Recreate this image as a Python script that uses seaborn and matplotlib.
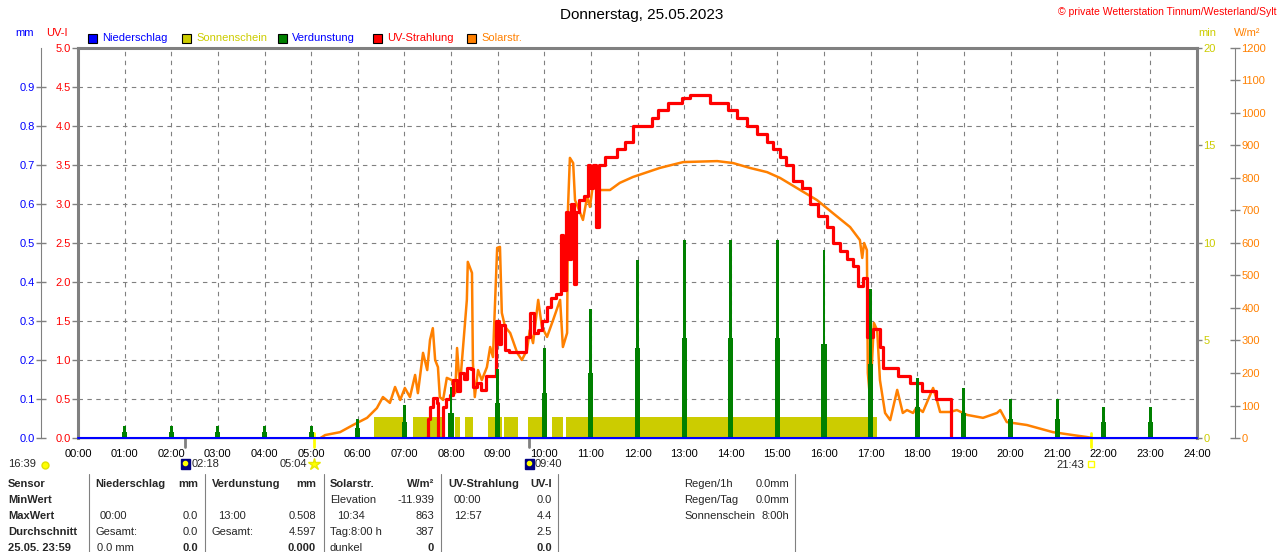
"""
Tagesgrafik Wetterstation Tinnum: UV, Solarstrahlung, Verdunstung, Sonnenschein (25.05.2023).
"""
import numpy as np
import pandas as pd
import matplotlib
matplotlib.use("Agg")
import matplotlib.pyplot as plt
from matplotlib.patches import Rectangle
from matplotlib.lines import Line2D
import matplotlib.transforms as mtransforms
import seaborn as sns

# --- values ---
solar_h = [5.20, 5.30, 5.62, 5.90, 5.98, 6.20, 6.41, 6.54, 6.69, 6.80,
           6.91, 7.01, 7.12, 7.23, 7.29, 7.40, 7.49, 7.55, 7.61, 7.66,
           7.72, 7.76, 7.83, 7.91, 8.02, 8.09, 8.13, 8.19, 8.34, 8.36,
           8.45, 8.47, 8.51, 8.58, 8.66, 8.77, 8.84, 8.90, 8.99, 9.05,
           9.09, 9.16, 9.27, 9.42, 9.52, 9.63, 9.69, 9.76, 9.87, 9.95,
           10.06, 10.19, 10.34, 10.40, 10.49, 10.51, 10.55, 10.62, 10.66, 10.72,
           10.83, 10.92, 10.98, 11.05, 11.20, 11.41, 11.62, 11.90, 12.48, 12.98,
           13.71, 14.05, 14.41, 14.78, 15.06, 15.49, 15.85, 16.19, 16.56, 16.77,
           16.82, 16.86, 16.92, 16.94, 16.99, 17.07, 17.14, 17.20, 17.31, 17.42,
           17.57, 17.69, 17.78, 17.91, 17.99, 18.12, 18.34, 18.42, 18.49, 18.70,
           18.85, 19.07, 19.41, 19.71, 19.78, 19.92, 20.35, 20.91, 21.34, 21.64,
           21.75]
solar_w = [0, 9, 18, 40, 46, 62, 92, 126, 108, 157,
           117, 154, 126, 194, 138, 262, 209, 302, 338, 240,
           218, 126, 117, 185, 178, 138, 277, 157, 425, 542,
           508, 231, 126, 209, 178, 218, 280, 249, 585, 588,
           385, 342, 323, 262, 240, 271, 332, 292, 425, 342,
           311, 363, 425, 280, 323, 711, 862, 846, 732, 711,
           671, 742, 711, 785, 763, 763, 785, 803, 831, 849,
           852, 846, 831, 818, 800, 763, 732, 692, 649, 609,
           554, 600, 578, 200, 117, 354, 332, 178, 77, 55,
           148, 77, 86, 77, 95, 80, 154, 117, 80, 80,
           86, 71, 62, 77, 86, 49, 40, 18, 9, 3,
           0]

uv_h = [7.45, 7.50, 7.55, 7.62, 7.70, 7.73, 7.83, 7.90, 7.98, 8.05,
        8.12, 8.20, 8.27, 8.35, 8.42, 8.47, 8.55, 8.65, 8.75, 8.85,
        8.97, 9.02, 9.08, 9.15, 9.25, 9.50, 9.60, 9.70, 9.78, 9.87,
        9.95, 10.05, 10.15, 10.25, 10.35, 10.40, 10.47, 10.52, 10.58, 10.63,
        10.68, 10.75, 10.85, 10.93, 10.98, 11.05, 11.12, 11.18, 11.30, 11.56,
        11.73, 11.90, 12.31, 12.44, 12.65, 12.95, 13.13, 13.56, 13.94, 14.13,
        14.35, 14.56, 14.78, 14.91, 15.06, 15.19, 15.33, 15.52, 15.70, 15.88,
        16.06, 16.19, 16.34, 16.49, 16.62, 16.73, 16.84, 16.92, 17.05, 17.20,
        17.27, 17.58, 17.84, 18.10, 18.40, 18.72]
uv_i = [0.0, 0.25, 0.40, 0.51, 0.45, 0.0, 0.40, 0.50, 0.55, 0.74,
        0.60, 0.83, 0.75, 0.90, 0.88, 0.65, 0.70, 0.62, 0.80, 0.80,
        1.50, 1.20, 1.45, 1.13, 1.10, 1.10, 1.30, 1.60, 1.35, 1.38,
        1.50, 1.68, 1.80, 1.85, 2.60, 1.90, 2.90, 2.30, 3.00, 1.98,
        2.90, 3.05, 3.10, 3.50, 3.20, 3.50, 2.70, 3.50, 3.60, 3.70,
        3.80, 4.00, 4.10, 4.20, 4.30, 4.36, 4.40, 4.30, 4.20, 4.10,
        4.00, 3.90, 3.80, 3.70, 3.60, 3.50, 3.30, 3.20, 3.00, 2.85,
        2.70, 2.50, 2.40, 2.30, 2.20, 1.95, 2.05, 1.30, 1.40, 1.17,
        0.90, 0.80, 0.70, 0.60, 0.50, 0.0]

verd_hours = list(range(1, 24))
verd_mm = [0.03, 0.03, 0.03, 0.03, 0.03, 0.05, 0.085, 0.13, 0.177, 0.23,
           0.33, 0.456, 0.508, 0.508, 0.508, 0.482, 0.382, 0.154, 0.128, 0.10,
           0.10, 0.08, 0.08]
verd_mm_low = [0.015, 0.015, 0.015, 0.015, 0.015, 0.026, 0.04, 0.064, 0.09, 0.115,
               0.167, 0.23, 0.256, 0.256, 0.256, 0.24, 0.19, 0.08, 0.065, 0.05,
               0.05, 0.04, 0.04]

sun_start = [6.35, 7.19, 8.09, 8.30, 8.79, 9.14, 9.65, 10.17, 10.47]
sun_end = [6.97, 7.81, 8.19, 8.47, 9.09, 9.44, 9.97, 10.40, 17.13]
sun_level = 1.07  # min

precip_h = [0, 24]
precip_mm = [0.0, 0.0]

# sun/moon events below the time axis
event_h = [2.30, 5.067, 9.667, 21.717]
event_lbl = ["02:18", "05:04", "09:40", "21:43"]

C_BLUE = "#0000ff"
C_RED = "#ff0000"
C_SUN = "#cccc00"
C_GREEN = "#008000"
C_ORANGE = "#ff8000"
C_GRID = "#808080"

W_PX, H_PX = 1280, 552


def fx(px):
    return px / W_PX


def fy(py):
    return 1 - py / H_PX


sns.set_theme(style="white")
plt.rcParams["font.family"] = ["Liberation Sans", "DejaVu Sans"]
plt.rcParams["axes.unicode_minus"] = False

fig = plt.figure(figsize=(W_PX / 100, H_PX / 100), dpi=100)
fig.patch.set_facecolor("white")

ax = fig.add_axes([fx(78), fy(438), fx(1197) - fx(78), fy(48) - fy(438)])
ax_min = ax.twinx()
ax_w = ax.twinx()
ax_uv = ax.twinx()
ax_mm = ax.twinx()

for i, a in enumerate((ax, ax_min, ax_w, ax_uv, ax_mm)):
    a.set_zorder(i + 1)
for a in (ax_min, ax_w, ax_uv, ax_mm):
    for s in a.spines.values():
        s.set_visible(False)

# main UV axis with grid
ax.set_xlim(0, 24)
ax.set_ylim(0, 5)
uv_ticks = np.arange(0, 5.01, 0.5)
ax.set_yticks(uv_ticks)
ax.set_yticklabels([f"{v:.1f}" for v in uv_ticks])
ax.set_xticks(range(25))
ax.set_xticklabels([f"{h:02d}:00" for h in range(25)])
ax.tick_params(axis="x", length=0, pad=8, labelsize=8, labelcolor="black")
ax.tick_params(axis="y", direction="out", length=4.3, width=1, color=C_GRID,
               labelsize=8, labelcolor=C_RED, pad=1)
ax.grid(True, color=C_GRID, linestyle=(0, (4, 4)), linewidth=0.8)
for side in ("left", "top", "right"):
    ax.spines[side].set_color(C_GRID)
    ax.spines[side].set_linewidth(2.2)
ax.spines["bottom"].set_color(C_GRID)
ax.spines["bottom"].set_linewidth(1)

# sunshine minutes (right inner axis)
ax_min.set_ylim(0, 20)
ax_min.set_yticks([0, 5, 10, 15, 20])
ax_min.tick_params(axis="y", direction="out", length=3.5, width=1, color=C_GRID,
                   labelsize=8, labelcolor=C_SUN, pad=1)
ax_min.bar(sun_start, sun_level, width=np.subtract(sun_end, sun_start),
           align="edge", color=C_SUN, linewidth=0)

# solar radiation (right outer axis)
solar_df = pd.DataFrame({"stunde": solar_h, "wm2": solar_w})
sns.lineplot(data=solar_df, x="stunde", y="wm2", ax=ax_w, color=C_ORANGE,
             linewidth=1.8, estimator=None, sort=False)
ax_w.set_ylim(0, 1200)
ax_w.set_yticks(range(0, 1201, 100))
ax_w.spines["right"].set_visible(True)
ax_w.spines["right"].set_position(("outward", 27.4))
ax_w.spines["right"].set_color(C_GRID)
ax_w.spines["right"].set_linewidth(0.8)
ax_w.tick_params(axis="y", direction="inout", length=7, width=1, color=C_GRID,
                 labelsize=8, labelcolor=C_ORANGE, pad=1)

# UV index line
uv_df = pd.DataFrame({"stunde": uv_h, "uvi": uv_i})
sns.lineplot(data=uv_df, x="stunde", y="uvi", ax=ax_uv, color=C_RED,
             linewidth=2.3, estimator=None, sort=False, drawstyle="steps-post")
ax_uv.set_ylim(0, 5)
ax_uv.set_yticks([])

# evaporation + precipitation (left outer axis, mm)
ax_mm.bar(verd_hours, verd_mm_low, width=0.11, color=C_GREEN, linewidth=0)
ax_mm.bar(verd_hours, verd_mm, width=0.06, color=C_GREEN, linewidth=0)
sns.lineplot(x=precip_h, y=precip_mm, ax=ax_mm, color=C_BLUE, linewidth=1.5,
             clip_on=False)
ax_mm.set_ylim(0, 1)
ax_mm.yaxis.tick_left()
ax_mm.yaxis.set_label_position("left")
ax_mm.spines["left"].set_visible(True)
ax_mm.spines["left"].set_position(("outward", 26.6))
ax_mm.spines["left"].set_color(C_GRID)
ax_mm.spines["left"].set_linewidth(0.8)
mm_ticks = np.arange(0, 0.91, 0.1)
ax_mm.set_yticks(mm_ticks)
ax_mm.set_yticklabels([f"{v:.1f}" for v in mm_ticks])
ax_mm.tick_params(axis="y", direction="inout", length=7, width=1, color=C_GRID,
                  labelsize=8, labelcolor=C_BLUE, pad=1)

for a in (ax, ax_min, ax_w, ax_uv, ax_mm):
    a.set_xlim(0, 24)
    a.set_xlabel("")
    a.set_ylabel("")

# event ticks on the time axis
trans = mtransforms.blended_transform_factory(ax.transData, ax.transAxes)
ev_col = [C_GRID, "#ffff00", C_GRID, "#ffff00"]
for h, c in zip(event_h, ev_col):
    top = 0.013 if c != C_GRID else 0.0
    ax.add_line(Line2D([h, h], [top, -0.022], color=c, lw=2, transform=trans,
                       clip_on=False, zorder=10))

# titles and axis captions
fig.text(fx(642), fy(15), "Donnerstag, 25.05.2023", ha="center", va="center",
         fontsize=11, color="black")
fig.text(fx(1277), fy(12), "© private Wetterstation Tinnum/Westerland/Sylt",
         ha="right", va="center", fontsize=7.5, color=C_RED)
fig.text(fx(15), fy(33), "mm", ha="left", va="center", fontsize=8, color=C_BLUE)
fig.text(fx(46), fy(33), "UV-I", ha="left", va="center", fontsize=8, color=C_RED)
fig.text(fx(1198), fy(33), "min", ha="left", va="center", fontsize=8, color=C_SUN)
fig.text(fx(1234), fy(33), "W/m²", ha="left", va="center", fontsize=8, color=C_ORANGE)

# legend
legend_items = [("Niederschlag", C_BLUE, C_BLUE, 88),
                ("Sonnenschein", C_SUN, C_SUN, 182),
                ("Verdunstung", C_GREEN, C_BLUE, 278),
                ("UV-Strahlung", C_RED, C_RED, 373),
                ("Solarstr.", C_ORANGE, C_ORANGE, 467)]
for name, box_col, txt_col, x0 in legend_items:
    fig.add_artist(Rectangle((fx(x0), fy(43)), 9 / W_PX, 9 / H_PX,
                             facecolor=box_col, edgecolor="black", lw=0.8,
                             transform=fig.transFigure))
    fig.text(fx(x0 + 14), fy(38), name, ha="left", va="center", fontsize=8,
             color=txt_col)

# event row under the axis
fig.text(fx(8), fy(464), "16:39", ha="left", va="center", fontsize=8)
fig.add_artist(Line2D([fx(45)], [fy(465)], marker="o", ms=5, color="#ffff00",
                      markeredgecolor="#e0e000", transform=fig.transFigure))
for h, lbl in zip(event_h, event_lbl):
    xp = 78 + h * (1197 - 78) / 24
    if lbl in ("02:18", "09:40"):
        fig.add_artist(Rectangle((fx(xp - 4), fy(469)), 9 / W_PX, 10 / H_PX,
                                 facecolor="#000080", edgecolor="#000080",
                                 transform=fig.transFigure))
        fig.add_artist(Line2D([fx(xp)], [fy(463)], marker="o", ms=3,
                              color="#ffff00", transform=fig.transFigure))
        fig.text(fx(xp + 6), fy(464), lbl, ha="left", va="center", fontsize=8)
    elif lbl == "05:04":
        fig.text(fx(xp - 7), fy(464), lbl, ha="right", va="center", fontsize=8)
        fig.add_artist(Line2D([fx(xp)], [fy(464)], marker="*", ms=9,
                              color="#ffff00", markeredgecolor="#e8e800",
                              transform=fig.transFigure))
    else:
        fig.text(fx(xp - 6), fy(465), lbl, ha="right", va="center", fontsize=8)
        fig.add_artist(Line2D([fx(xp)], [fy(464)], marker="s", ms=4,
                              markerfacecolor="none", markeredgecolor="#ffff00",
                              transform=fig.transFigure))

# summary table
row_y = [484, 500, 516, 532, 548]
row_names = ["Sensor", "MinWert", "MaxWert", "Durchschnitt", "25.05. 23:59"]
for y, name in zip(row_y, row_names):
    fig.text(fx(8), fy(y), name, ha="left", va="center", fontsize=8,
             fontweight="bold")

# (x, y, text, align, bold)
table_cells = [
    (95, 484, "Niederschlag", "left", True), (198, 484, "mm", "right", True),
    (212, 484, "Verdunstung", "left", True), (316, 484, "mm", "right", True),
    (330, 484, "Solarstr.", "left", True), (434, 484, "W/m²", "right", True),
    (448, 484, "UV-Strahlung", "left", True), (552, 484, "UV-I", "right", True),
    (330, 500, "Elevation", "left", False), (434, 500, "-11.939", "right", False),
    (454, 500, "00:00", "left", False), (552, 500, "0.0", "right", False),
    (100, 516, "00:00", "left", False), (198, 516, "0.0", "right", False),
    (218, 516, "13:00", "left", False), (316, 516, "0.508", "right", False),
    (337, 516, "10:34", "left", False), (434, 516, "863", "right", False),
    (454, 516, "12:57", "left", False), (552, 516, "4.4", "right", False),
    (95, 532, "Gesamt:", "left", False), (198, 532, "0.0", "right", False),
    (212, 532, "Gesamt:", "left", False), (316, 532, "4.597", "right", False),
    (330, 532, "Tag:8:00 h", "left", False), (434, 532, "387", "right", False),
    (552, 532, "2.5", "right", False),
    (97, 548, "0.0 mm", "left", False), (198, 548, "0.0", "right", True),
    (316, 548, "0.000", "right", True),
    (330, 548, "dunkel", "left", False), (434, 548, "0", "right", True),
    (552, 548, "0.0", "right", True),
    (684, 484, "Regen/1h", "left", False), (789, 484, "0.0mm", "right", False),
    (684, 500, "Regen/Tag", "left", False), (789, 500, "0.0mm", "right", False),
    (684, 516, "Sonnenschein", "left", False), (789, 516, "8:00h", "right", False),
]
for x, y, txt, ha, bold in table_cells:
    fig.text(fx(x), fy(y), txt, ha=ha, va="center", fontsize=8,
             fontweight="bold" if bold else "normal")

for xs in (89, 205, 324, 441, 558, 795):
    fig.add_artist(Line2D([fx(xs), fx(xs)], [fy(474), fy(552)], color=C_GRID,
                          lw=0.8, transform=fig.transFigure))

fig.savefig("out.png", dpi=100, facecolor="white")
